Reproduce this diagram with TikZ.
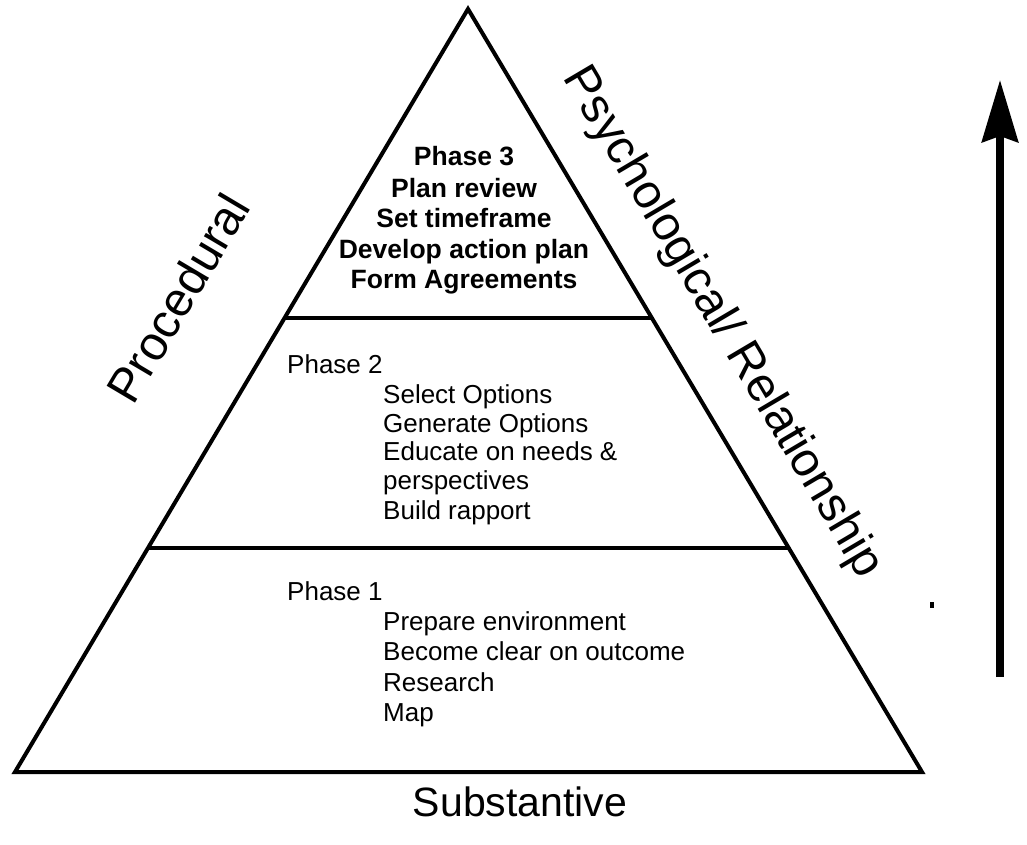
\documentclass[tikz,border=0pt]{standalone}
\usepackage{fontspec}
\setmainfont{Liberation Sans}
\usetikzlibrary{calc,arrows.meta}
\begin{document}
\begin{tikzpicture}[x=1pt,y=-1pt,
  edge/.style={line width=4pt,line join=miter},
  divider/.style={line width=4pt},
  item/.style={inner sep=0pt,anchor=base west,font=\fontsize{26}{29}\selectfont},
  boldline/.style={inner sep=0pt,anchor=base,font=\fontsize{26.5}{30}\selectfont\bfseries},
  sidelabel/.style={inner sep=0pt,font=\fontsize{48}{54}\selectfont},
  rise/.style={line width=7.5pt,-{Stealth[length=62pt,width=36pt,inset=6pt]}}]
\useasboundingbox (0,0) rectangle (1027,845);
% pyramid corners
\coordinate (apex) at (468,9);
\coordinate (bl) at (15,772);
\coordinate (br) at (922,772);
\draw[edge] (apex) -- (br) -- (bl) -- cycle;
% dividers between the phases
\coordinate (d1l) at ($(bl)!0.595!(apex)$);
\coordinate (d1r) at ($(br)!0.595!(apex)$);
\coordinate (d2l) at ($(bl)!0.2936!(apex)$);
\coordinate (d2r) at ($(br)!0.2936!(apex)$);
\draw[divider] (d1l) -- (d1r);
\draw[divider] (d2l) -- (d2r);
% phase 3
\node[boldline] (p3a) at (464,166) {Phase 3};
\node[boldline] (p3b) at (464,197) {Plan review};
\node[boldline] (p3c) at (464,227) {Set timeframe};
\node[boldline] (p3d) at (464,258) {Develop action plan};
\node[boldline] (p3e) at (464,288) {Form Agreements};
% phase 2
\node[item] (p2) at (287,373) {Phase 2};
\node[item] (p2a) at (383,403) {Select Options};
\node[item] (p2b) at (383,432) {Generate Options};
\node[item] (p2c) at (383,460) {Educate on needs \&};
\node[item] (p2d) at (383,489) {perspectives};
\node[item] (p2e) at (383,519) {Build rapport};
% phase 1
\node[item] (p1) at (287,600) {Phase 1};
\node[item] (p1a) at (383,630) {Prepare environment};
\node[item] (p1b) at (383,660) {Become clear on outcome};
\node[item] (p1c) at (383,691) {Research};
\node[item] (p1d) at (383,721) {Map};
% side labels
\node[sidelabel,rotate=59.3] (proc) at (178,298) {Procedural};
\node[sidelabel,rotate=-59.4] (psych) at (722,323) {Psychological/ Relationship};
\node[sidelabel,font=\fontsize{41}{47}\selectfont] (subst) at (520,802) {Substantive};
% upward arrow
\coordinate (arrfoot) at (1000,677);
\coordinate (arrtip) at (1000,80);
\draw[rise] (arrfoot) -- (arrtip);
% small dot
\fill (930,602) rectangle (934,608);
\end{tikzpicture}
\end{document}
